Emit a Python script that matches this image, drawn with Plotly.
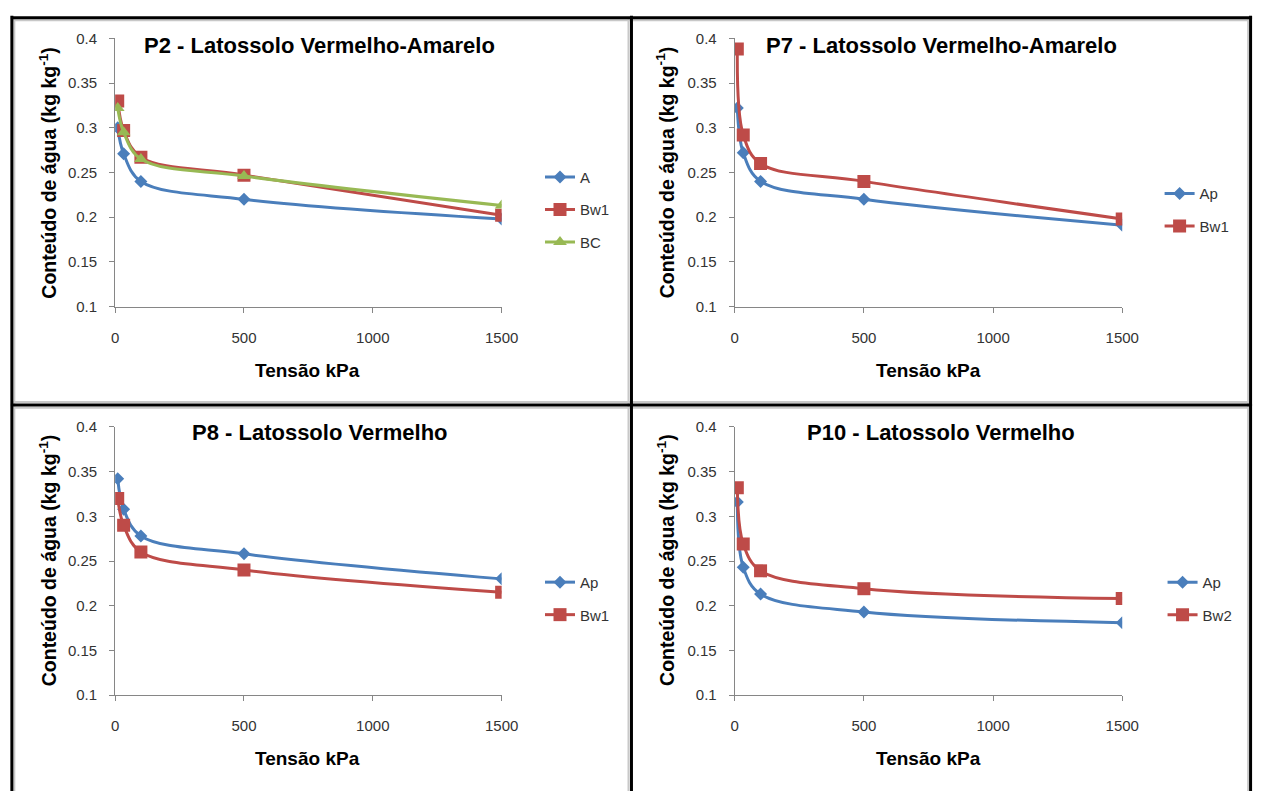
import plotly.graph_objects as go

# ---------------- data ----------------
tensao = [10, 33, 100, 500, 1500]

p2_A = [0.300, 0.271, 0.240, 0.220, 0.198]
p2_Bw1 = [0.330, 0.297, 0.267, 0.247, 0.202]
p2_BC = [0.322, 0.295, 0.265, 0.246, 0.213]

p7_Ap = [0.322, 0.272, 0.240, 0.220, 0.191]
p7_Bw1 = [0.388, 0.292, 0.260, 0.240, 0.198]

p8_Ap = [0.342, 0.308, 0.278, 0.258, 0.230]
p8_Bw1 = [0.320, 0.290, 0.260, 0.240, 0.215]

p10_Ap = [0.316, 0.243, 0.213, 0.193, 0.181]
p10_Bw2 = [0.332, 0.269, 0.239, 0.219, 0.208]

titles = ["P2 - Latossolo Vermelho-Amarelo", "P7 - Latossolo Vermelho-Amarelo",
          "P8 - Latossolo Vermelho", "P10 - Latossolo Vermelho"]
x_ticks = [0, 500, 1000, 1500]
y_ticks = [0.1, 0.15, 0.2, 0.25, 0.3, 0.35, 0.4]
y_ticklabels = ["0.1", "0.15", "0.2", "0.25", "0.3", "0.35", "0.4"]

# ---------------- styling ----------------
W, H = 1272, 799
BLUE, RED, GREEN = "#4A7EBB", "#BE4B48", "#98B954"
STYLE = {
    "A": (BLUE, "diamond", 10), "Ap": (BLUE, "diamond", 10),
    "Bw1": (RED, "square", 13), "Bw2": (RED, "square", 13),
    "BC": (GREEN, "triangle-up", 12),
}
FONT = "Liberation Sans, Arial, sans-serif"
TICKC = "#333"

def fx(px):
    return px / W

def fy(py):
    return 1 - py / H

# panel plot areas in pixels: (left, right, top, bottom)
panels = [(113, 506, 30, 304), (743, 1137, 30, 304),
          (113, 506, 427, 701), (743, 1137, 427, 701)]
series = [
    [("A", p2_A), ("Bw1", p2_Bw1), ("BC", p2_BC)],
    [("Ap", p7_Ap), ("Bw1", p7_Bw1)],
    [("Ap", p8_Ap), ("Bw1", p8_Bw1)],
    [("Ap", p10_Ap), ("Bw2", p10_Bw2)],
]
legend_pos = [(545, 155), (1175, 172), (545, 569), (1178, 569)]

fig = go.Figure()
layout = dict(
    width=W, height=H, margin=dict(l=0, r=0, t=0, b=0),
    paper_bgcolor="white", plot_bgcolor="white",
    font=dict(family=FONT, color=TICKC),
    annotations=[], shapes=[],
)

for i, (pan, ser) in enumerate(zip(panels, series)):
    n = "" if i == 0 else str(i + 1)
    leg = "legend" if i == 0 else f"legend{i + 1}"
    for k, (name, vals) in enumerate(ser):
        col, sym, sz = STYLE[name]
        fig.add_trace(go.Scatter(
            x=tensao, y=vals, name=name, mode="lines+markers",
            line=dict(color=col, width=3, shape="spline", smoothing=1),
            marker=dict(symbol=sym, size=sz, color=col),
            xaxis="x" + n, yaxis="y" + n, legend=leg,
            legendgroup=f"g{i}_{k}",
        ))
    l, r, t, b = pan
    layout["xaxis" + n] = dict(
        domain=[fx(l), fx(r)], range=[0, 1500], anchor="y" + n,
        tickvals=x_ticks, ticks="outside", ticklen=5, tickcolor="#868686",
        showline=True, linecolor="#868686", linewidth=1, showgrid=False,
        zeroline=False, tickfont=dict(size=15, color=TICKC),
        ticklabelstandoff=12,
    )
    layout["yaxis" + n] = dict(
        domain=[fy(b), fy(t)], range=[0.1, 0.4], anchor="x" + n,
        tickvals=y_ticks, ticktext=y_ticklabels, ticks="outside", ticklen=5,
        tickcolor="#868686", showline=True, linecolor="#868686", linewidth=1,
        showgrid=False, zeroline=False, tickfont=dict(size=15, color=TICKC),
        ticklabelstandoff=9,
    )
    lx, ly = legend_pos[i]
    layout[leg] = dict(
        x=fx(lx), y=fy(ly), xanchor="left", yanchor="top",
        bgcolor="rgba(0,0,0,0)", font=dict(size=15, color=TICKC),
        tracegroupgap=10, itemclick=False,
    )
    tx = 321 if i % 2 == 0 else 953
    ty = 37 if i < 2 else 433
    layout["annotations"].append(dict(
        text=f"<b>{titles[i]}</b>", x=fx(tx), y=fy(ty), xref="paper", yref="paper",
        showarrow=False, font=dict(size=22, color="black"),
        xanchor="center", yanchor="middle"))
    yx = 45 if i % 2 == 0 else 673
    yy = 167 if i < 2 else 563
    layout["annotations"].append(dict(
        text="<b>Conteúdo de água (kg kg<sup>-1</sup>)</b>", x=fx(yx), y=fy(yy),
        xref="paper", yref="paper", showarrow=False, textangle=-90,
        font=dict(size=19.5, color="black"), xanchor="center", yanchor="middle"))
    xx = 309 if i % 2 == 0 else 940
    xy = 369 if i < 2 else 766
    layout["annotations"].append(dict(
        text="<b>Tensão kPa</b>", x=fx(xx), y=fy(xy), xref="paper", yref="paper",
        showarrow=False, font=dict(size=19, color="black"),
        xanchor="center", yanchor="middle"))

def vline(x, y0, y1, color, w):
    layout["shapes"].append(dict(type="line", xref="paper", yref="paper",
                                 x0=fx(x), x1=fx(x), y0=fy(y0), y1=fy(y1),
                                 line=dict(color=color, width=w)))

def hline(y, x0, x1, color, w):
    layout["shapes"].append(dict(type="line", xref="paper", yref="paper",
                                 x0=fx(x0), x1=fx(x1), y0=fy(y), y1=fy(y),
                                 line=dict(color=color, width=w)))

GRAY = "#C8C8C8"
vline(10.5, 10, 799, GRAY, 2)
vline(635, 10, 799, GRAY, 2)
vline(1265, 10, 799, GRAY, 2)
hline(11.5, 7, 1268, GRAY, 2)
hline(401.5, 7, 1268, GRAY, 2)
hline(407.5, 7, 1268, GRAY, 2)
vline(8, 7, 799, "black", 3)
vline(638, 7, 799, "black", 3)
vline(1267.5, 7, 799, "black", 3)
hline(9, 7, 1269, "black", 3)
hline(404.5, 7, 1269, "black", 3)

fig.update_layout(**layout)
fig.write_html("out.html")
